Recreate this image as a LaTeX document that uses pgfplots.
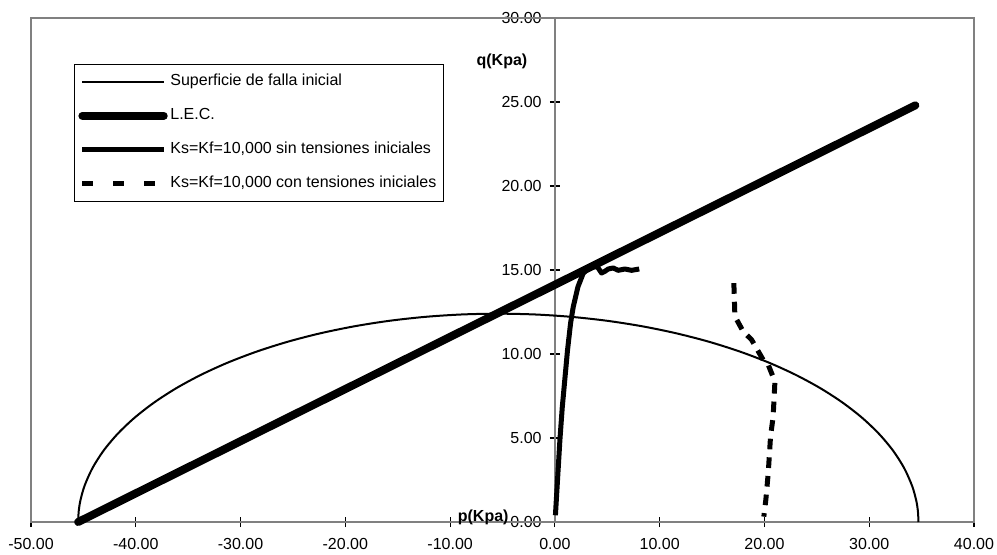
\documentclass[border=0pt]{standalone}
\usepackage{fontspec}
\setmainfont{Liberation Sans}
\usepackage{pgfplots}
\pgfplotsset{compat=1.18}
\begin{document}
\fontsize{12}{14}\selectfont
\begin{tikzpicture}
\begin{axis}[
  scale only axis, width=707.25pt, height=378pt,
  xmin=-50, xmax=40, ymin=0, ymax=30,
  axis lines=middle,
  axis line style={-, line width=1pt},
  x axis line style={black},
  y axis line style={gray},
  xtick={-50,-40,...,40}, ytick={0,5,...,30},
  tick align=center, major tick length=7.5pt,
  tick style={black, line width=0.8pt},
  hide obscured x ticks=false, hide obscured y ticks=false,
  xticklabel style={font=\fontsize{12}{14}\selectfont, yshift=-4pt},
  yticklabel style={font=\fontsize{12}{14}\selectfont, xshift=-2pt},
  /pgf/number format/fixed, /pgf/number format/fixed zerofill,
  /pgf/number format/precision=2, /pgf/number format/assume math mode=true,
  clip=false,
  legend image code/.code={\draw[#1] (0pt,0pt) -- (61pt,0pt);},
  legend style={at={(0.0456,0.9087)}, anchor=north west, draw=black, line width=0.6pt,
    font=\fontsize{12}{14}\selectfont, row sep=9.5pt, inner xsep=3pt, inner ysep=5pt,
    cells={anchor=west},
    nodes={inner sep=2pt, text height=9pt, text depth=3pt}},
]
\draw[gray, line width=1pt] (rel axis cs:0,0) rectangle (rel axis cs:1,1);

\addplot[black, line width=1.5pt, smooth] coordinates {
(34.7,0) (34.645,0.649) (34.48,1.296) (34.091,2.153) (33.334,3.209) (32.282,4.241)
(30.943,5.24) (29.328,6.2) (27.448,7.112) (25.318,7.971) (22.955,8.768) (20.376,9.499)
(17.601,10.157) (14.65,10.739) (11.547,11.238) (8.315,11.652) (4.979,11.978) (1.563,12.212)
(-1.905,12.353) (-5.4,12.4) (-8.895,12.353) (-12.363,12.212) (-15.779,11.978) (-19.115,11.652)
(-22.347,11.238) (-25.45,10.739) (-28.401,10.157) (-31.176,9.499) (-33.755,8.768) (-36.118,7.971)
(-38.248,7.112) (-40.128,6.2) (-41.743,5.24) (-43.082,4.241) (-44.134,3.209) (-44.891,2.153)
(-45.28,1.296) (-45.445,0.649) (-45.5,0)};
\addlegendentry{Superficie de falla inicial}

\addplot[black, line width=6pt, line cap=round] coordinates {(-45.5,0) (34.4,24.8)};
\addlegendentry{L.E.C.}

\addplot[black, line width=3.75pt, line join=round] coordinates {
(0.05,0.4) (0.25,2.5) (0.48,4.9) (0.7,6.8) (0.95,8.5) (1.2,10.2) (1.5,11.85) (1.75,12.8)
(2.2,14.0) (2.7,14.8) (3.2,15.1) (3.66,15.32) (4.13,15.12) (4.45,14.82) (4.77,14.92)
(5.09,15.06) (5.57,15.12) (6.04,14.98) (6.68,15.06) (7.32,14.98) (8.05,15.06)};
\addlegendentry{Ks=Kf=10,000 sin tensiones iniciales}

\addplot[black, line width=3.75pt, dash pattern=on 8pt off 6pt,
  legend image code/.code={\draw[black, line width=3.75pt, dash pattern=on 8.25pt off 15pt] (0pt,0pt) -- (55pt,0pt);}]
  coordinates {
(17.08,14.22) (17.18,12.24) (17.97,11.34) (18.77,10.85) (19.88,9.65) (20.36,9.36)
(21.0,8.36) (20.83,6.28) (20.58,5.08) (20.36,2.9) (20.13,1.31) (19.94,0.32)};
\addlegendentry{Ks=Kf=10,000 con tensiones iniciales}

\node[font=\bfseries\fontsize{12}{14}\selectfont, anchor=east] at (axis cs:-2.1,27.4) {q(Kpa)};
\node[font=\bfseries\fontsize{12}{14}\selectfont, anchor=base east, inner sep=0pt] at (axis cs:-4.4,0.05) {p(Kpa)};
\end{axis}
\pgfresetboundingbox
\path ([shift={(-23.25pt,-24pt)}]current axis.south west) rectangle ([shift={(17.25pt,13.5pt)}]current axis.north east);
\end{tikzpicture}
\end{document}
